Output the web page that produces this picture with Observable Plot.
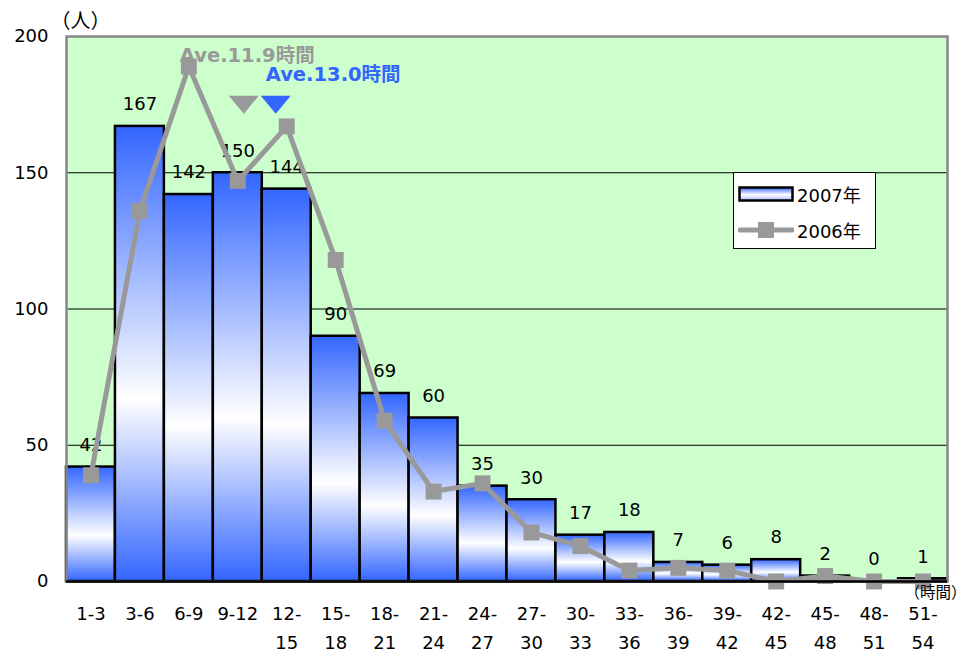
<!DOCTYPE html>
<html>
<head>
<meta charset="utf-8">
<script src="https://cdn.jsdelivr.net/npm/d3@7"></script>
<script src="https://cdn.jsdelivr.net/npm/@observablehq/plot@0.6"></script>
<style>
  body { margin: 0; background: #fff; font-family: "DejaVu Sans", "Noto Sans CJK JP", sans-serif; }
  #wrap { position: relative; width: 967px; height: 655px; }
  .legend { position: absolute; left: 733px; top: 172px; width: 141px; height: 75px;
            border: 1px solid #000; background: #fff; font-size: 18px; color: #000; }
  .legend .row { position: absolute; left: 4px; display: flex; align-items: center; height: 24px; }
  .legend .sw { width: 56px; height: 20px; margin-right: 3px; }
</style>
</head>
<body>
<div id="wrap"></div>
<script>
// Working-hour bands (hours) and headcounts per band
const categories = ["1-3","3-6","6-9","9-12","12-15","15-18","18-21","21-24","24-27","27-30","30-33","33-36","36-39","39-42","42-45","45-48","48-51","51-54"];
const tickLabels = ["1-3","3-6","6-9","9-12","12-\n15","15-\n18","18-\n21","21-\n24","24-\n27","27-\n30","30-\n33","33-\n36","36-\n39","39-\n42","42-\n45","45-\n48","48-\n51","51-\n54"];
const counts2007 = [42,167,142,150,144,90,69,60,35,30,17,18,7,6,8,2,0,1];
const counts2006 = [39,136,189,147,167,118,59,33,36,18,13,4,5,4,0,2,0,0];

// Average hours for each year
const averageYears = ["2006", "2007"];
const averageHours = [11.9, 13.0];
const averageColors = ["#999999", "#3366FF"];
const averageBands = ["9-12", "12-15"];

// Unit labels
const yUnit = "（人）";
const xUnit = "（時間）";

const BLUE = "#3366FF";
const GRAY = "#999999";
const FONT = "'DejaVu Sans', 'Noto Sans CJK JP', sans-serif";
const CJK = "'Noto Sans CJK JP', sans-serif";

const rows = categories.map((c, i) => ({cat: c, v2007: counts2007[i], v2006: counts2006[i]}));
const avg = averageYears.map((y, i) => ({year: y, hours: averageHours[i], color: averageColors[i], band: averageBands[i]}));
const avg2006 = avg.filter(d => d.year === "2006");
const avg2007 = avg.filter(d => d.year === "2007");

// flattened, downward-pointing triangle marker
const downTriangle = {
  draw(ctx, size) {
    const r = Math.sqrt(size / Math.PI);
    ctx.moveTo(-r, -r * 0.6);
    ctx.lineTo(r, -r * 0.6);
    ctx.lineTo(0, r * 0.6);
    ctx.closePath();
  }
};
const avgLabel = d => `Ave.${d.hours.toFixed(1)}時間`;

const chart = Plot.plot({
  width: 967,
  height: 655,
  marginLeft: 66,
  marginRight: 20,
  marginTop: 36,
  marginBottom: 74,
  style: {fontFamily: FONT, fontSize: "18px", color: "#000", background: "transparent", overflow: "visible"},
  x: {domain: categories, padding: 0, round: false, label: null},
  y: {domain: [0, 200], label: null},
  color: {type: "identity"},
  marks: [
    Plot.frame({fill: "#CCFFCC", stroke: "none"}),
    Plot.gridY([50, 100, 150], {stroke: "#000", strokeOpacity: 1, strokeWidth: 1}),
    Plot.barY(rows, {x: "cat", y: "v2007", fill: "url(#barGrad2007)", stroke: "#000", strokeWidth: 2.5, insetLeft: 0, insetRight: 0}),
    Plot.text(rows, {x: "cat", y: "v2007", text: d => String(d.v2007), dy: -22, fontSize: 18, fill: "#000"}),
    Plot.line(rows, {x: "cat", y: "v2006", stroke: GRAY, strokeWidth: 5}),
    Plot.dot(rows, {x: "cat", y: "v2006", symbol: "square", r: 9, fill: GRAY, stroke: "none"}),
    Plot.frame({stroke: "#888", strokeWidth: 2.5}),
    Plot.ruleY([0], {stroke: "#000", strokeWidth: 2.5}),
    // average markers: the two triangles sit side by side near the 9-12 / 12-15 boundary
    Plot.dot(avg2006, {x: "band", y: () => 175, symbol: () => downTriangle, r: 15, fill: "color", stroke: "none", dx: 6}),
    Plot.dot(avg2007, {x: "band", y: () => 175, symbol: () => downTriangle, r: 15, fill: "color", stroke: "none", dx: -11}),
    Plot.text(avg2006, {x: "band", y: () => 193, text: avgLabel, fill: "color", fontWeight: "bold", fontSize: 19.5, textAnchor: "start", dx: -58}),
    Plot.text(avg2007, {x: "band", y: () => 186, text: avgLabel, fill: "color", fontWeight: "bold", fontSize: 19.5, textAnchor: "start", dx: -21}),
    Plot.axisY({ticks: [0, 50, 100, 150, 200], tickSize: 0, tickPadding: 18, fontSize: 18}),
    Plot.axisX({tickFormat: d => tickLabels[categories.indexOf(d)], tickSize: 0, tickPadding: 18, fontSize: 18, lineHeight: 1.6}),
    Plot.text([yUnit], {frameAnchor: "top-left", text: d => d, textAnchor: "middle", dx: 14, dy: -23, fontSize: 20, fontFamily: CJK, fill: "#000"}),
    Plot.text([xUnit], {frameAnchor: "bottom-right", text: d => d, textAnchor: "end", dx: 19, dy: 16, fontSize: 15.5, fontFamily: CJK, fill: "#000"})
  ]
});

// vertical blue–white–blue fill, stretched over each bar
const svg = d3.select(chart);
const defs = svg.insert("defs", ":first-child");
const grad = defs.append("linearGradient").attr("id", "barGrad2007")
  .attr("x1", 0).attr("y1", 0).attr("x2", 0).attr("y2", 1);
grad.append("stop").attr("offset", "0%").attr("stop-color", BLUE);
grad.append("stop").attr("offset", "60%").attr("stop-color", "#FFFFFF");
grad.append("stop").attr("offset", "100%").attr("stop-color", BLUE);

document.getElementById("wrap").appendChild(chart);

// legend
const legend = document.createElement("div");
legend.className = "legend";
legend.innerHTML = `
  <div class="row" style="top:9px">
    <svg class="sw" width="56" height="20"><defs><linearGradient id="lg2007" x1="0" y1="0" x2="0" y2="1">
      <stop offset="0%" stop-color="${BLUE}"/><stop offset="55%" stop-color="#fff"/><stop offset="100%" stop-color="#aab8ff"/></linearGradient></defs>
      <rect x="1.5" y="3.5" width="53" height="13" fill="url(#lg2007)" stroke="#000" stroke-width="2.5"/></svg>
    <span>2007年</span></div>
  <div class="row" style="top:45px">
    <svg class="sw" width="56" height="20"><line x1="2" x2="54" y1="10" y2="10" stroke="${GRAY}" stroke-width="5" stroke-linecap="round"/>
      <rect x="20" y="2" width="16" height="16" fill="${GRAY}"/></svg>
    <span>2006年</span></div>`;
document.getElementById("wrap").appendChild(legend);
</script>
</body>
</html>
